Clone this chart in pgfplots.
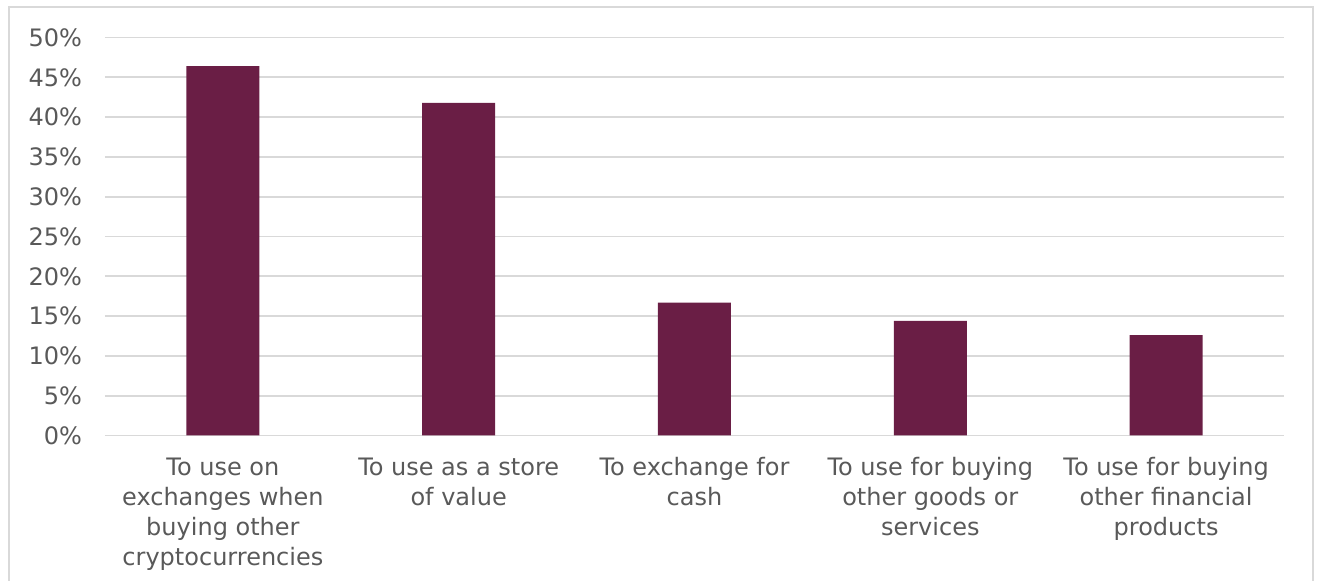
\documentclass[border=0pt]{standalone}
\usepackage{pgfplots}
\pgfplotsset{compat=1.18}
\usepackage{fontspec}
\setmainfont{DejaVu Sans}
\definecolor{barc}{HTML}{6A1E45}
\definecolor{gridc}{HTML}{D9D9D9}
\definecolor{txt}{HTML}{595959}
\begin{document}
\begin{tikzpicture}
\useasboundingbox (0pt,0pt) rectangle (659pt,290.5pt);
\draw[gridc, line width=0.9pt] (4.5pt,-5pt) -- (4.5pt,287pt) -- (656.5pt,287pt) -- (656.5pt,-5pt);
\begin{axis}[
  at={(52.5pt,72.75pt)}, anchor=south west,
  scale only axis, width=589.5pt, height=199pt,
  xmin=-0.5, xmax=4.5, ymin=0, ymax=50,
  axis line style={draw=none},
  tick style={draw=none},
  ymajorgrids, grid style={gridc, line width=0.9pt},
  ytick={0,5,...,50},
  yticklabels={0\%,5\%,10\%,15\%,20\%,25\%,30\%,35\%,40\%,45\%,50\%},
  xtick={0,1,2,3,4},
  xticklabels={{\strut To use on\\exchanges when\\buying other\\cryptocurrencies},
               {\strut To use as a store\\of value},
               {\strut To exchange for\\cash},
               {\strut To use for buying\\other goods or\\services},
               {\strut To use for buying\\other financial\\products}},
  ticklabel style={font=\fontsize{12}{15}\selectfont, text=txt},
  yticklabel style={xshift=-8pt},
  xticklabel style={align=center, anchor=north, yshift=-6pt},
]
\addplot[ybar, fill=barc, draw=none, bar width=36.5pt] coordinates {(0,46.4) (1,41.8) (2,16.7) (3,14.4) (4,12.6)};
\end{axis}
\end{tikzpicture}
\end{document}
